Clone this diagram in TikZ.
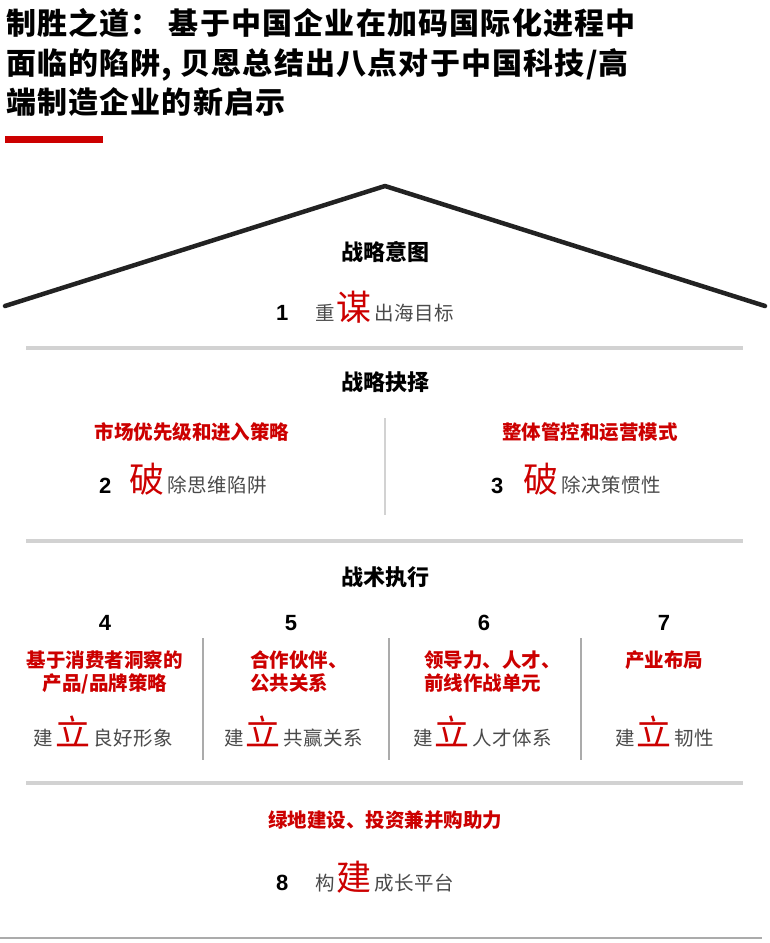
\documentclass[tikz,border=0pt]{standalone}
\usepackage{fontspec}
\setmainfont{Noto Sans CJK SC}
\newfontfamily\numfont{Liberation Sans}
\definecolor{bred}{HTML}{CC0000}
\definecolor{txtgray}{HTML}{4A4A4A}
\definecolor{sepgray}{HTML}{D2D2D2}
\definecolor{divgray}{HTML}{ABABAB}
\definecolor{roofcol}{HTML}{222222}
\newcommand{\bigred}[1]{{\fontsize{35}{35}\selectfont\color{bred}#1}\hspace{3pt}}
\newcommand{\gr}[1]{{\color{txtgray}#1}}
\begin{document}
\begin{tikzpicture}[x=1pt,y=-1pt,
  every node/.style={inner sep=0pt,outer sep=0pt},
  titletxt/.style={font=\fontsize{30}{40}\selectfont\bfseries\addfontfeature{LetterSpace=4},anchor=base west,text=black},
  headtxt/.style={font=\fontsize{22}{26}\selectfont\bfseries,anchor=base,text=black},
  redlbl/.style={font=\fontsize{19.5}{23}\selectfont\bfseries,text=bred},
  numtxt/.style={font=\numfont\fontsize{22}{26}\selectfont\bfseries,text=black},
  desc/.style={font=\fontsize{19.5}{24}\selectfont\addfontfeature{LetterSpace=3},anchor=base west},
  sepline/.style={draw=sepgray,line width=3.5pt},
  vdiv/.style={draw=divgray,line width=1.5pt},
  vdivlight/.style={draw=sepgray,line width=2pt}]
\useasboundingbox (0,0) rectangle (769,943);
% title
\node[titletxt] (t1) at (6,34) {制胜之道： 基于中国企业在加码国际化进程中};
\node[titletxt] (t2) at (6,74) {面临的陷阱, 贝恩总结出八点对于中国科技/高};
\node[titletxt] (t3) at (6,113) {端制造企业的新启示};
\fill[bred] (5,136) rectangle (103,143);
% roof
\coordinate (rl) at (5,306);
\coordinate (rt) at (385,186);
\coordinate (rr) at (765,306);
\draw[roofcol,line width=4.5pt,line cap=round,line join=round] (rl) -- (rt) -- (rr);
% section 1
\node[headtxt] (h1) at (385,260) {战略意图};
\node[numtxt,anchor=base west] (n1) at (276,320) {1};
\node[desc] (d1) at (315,320) {\gr{重}\hspace{2pt}\bigred{谋}\gr{出海目标}};
\coordinate (s1l) at (26,348); \coordinate (s1r) at (743,348);
\draw[sepline] (s1l) -- (s1r);
% section 2
\node[headtxt] (h2) at (385,390) {战略抉择};
\node[redlbl,anchor=base] (r2) at (192,439) {市场优先级和进入策略};
\node[redlbl,anchor=base] (r3) at (590,439) {整体管控和运营模式};
\coordinate (v2t) at (385,418); \coordinate (v2b) at (385,515);
\draw[vdivlight] (v2t) -- (v2b);
\node[numtxt,anchor=base west] (n2) at (99,493) {2};
\node[desc] (d2) at (129,492) {\bigred{破}\gr{除思维陷阱}};
\node[numtxt,anchor=base west] (n3) at (491,493) {3};
\node[desc] (d3) at (523,492) {\bigred{破}\gr{除决策惯性}};
\coordinate (s2l) at (26,541); \coordinate (s2r) at (743,541);
\draw[sepline] (s2l) -- (s2r);
% section 3
\node[headtxt] (h3) at (385,585) {战术执行};
\node[numtxt,anchor=base] (n4) at (105,630) {4};
\node[numtxt,anchor=base] (n5) at (291,630) {5};
\node[numtxt,anchor=base] (n6) at (484,630) {6};
\node[numtxt,anchor=base] (n7) at (664,630) {7};
\node[redlbl,anchor=base] (r4a) at (105,667) {基于消费者洞察的};
\node[redlbl,anchor=base] (r4b) at (105,690) {产品/品牌策略};
\node[redlbl,anchor=base west] (r5a) at (250,667) {合作伙伴、};
\node[redlbl,anchor=base west] (r5b) at (250,690) {公共关系};
\node[redlbl,anchor=base west] (r6a) at (424,667) {领导力、人才、};
\node[redlbl,anchor=base west] (r6b) at (424,690) {前线作战单元};
\node[redlbl,anchor=base] (r7) at (664,667) {产业布局};
\node[desc] (d4) at (34,745) {\gr{建}\hspace{2pt}\bigred{立}\gr{良好形象}};
\node[desc] (d5) at (224,745) {\gr{建}\hspace{2pt}\bigred{立}\gr{共赢关系}};
\node[desc] (d6) at (413,745) {\gr{建}\hspace{2pt}\bigred{立}\gr{人才体系}};
\node[desc] (d7) at (615,745) {\gr{建}\hspace{2pt}\bigred{立}\gr{韧性}};
\foreach \x/\n in {203/a,389/b,581/c}{
  \coordinate (vt\n) at (\x,638); \coordinate (vb\n) at (\x,760);
  \draw[vdiv] (vt\n) -- (vb\n);
}
\coordinate (s3l) at (26,783); \coordinate (s3r) at (743,783);
\draw[sepline] (s3l) -- (s3r);
% section 4
\node[redlbl,anchor=base] (r8) at (385,827) {绿地建设、投资兼并购助力};
\node[numtxt,anchor=base west] (n8) at (276,890) {8};
\node[desc] (d8) at (315,890) {\gr{构}\hspace{2pt}\bigred{建}\gr{成长平台}};
\coordinate (bl) at (0,938); \coordinate (br) at (762,938);
\draw[divgray,line width=1.5pt] (bl) -- (br);
\end{tikzpicture}
\end{document}
